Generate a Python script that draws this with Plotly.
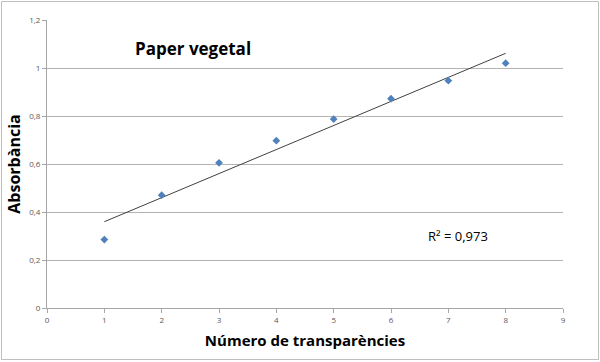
import numpy as np
import plotly.graph_objects as go

transparencies = [1, 2, 3, 4, 5, 6, 7, 8]
absorbance = [0.285, 0.47, 0.605, 0.697, 0.787, 0.872, 0.947, 1.02]
x_ticks = [0, 1, 2, 3, 4, 5, 6, 7, 8, 9]
y_ticks = [0, 0.2, 0.4, 0.6, 0.8, 1.0, 1.2]
y_tick_labels = ["0", "0,2", "0,4", "0,6", "0,8", "1", "1,2"]
title_text = "Paper vegetal"
x_title = "Número de transparències"
y_title = "Absorbància"
r2_text = "R² = 0,973"

slope, intercept = np.polyfit(transparencies, absorbance, 1)
trend_x = [transparencies[0], transparencies[-1]]
trend_y = [slope * v + intercept for v in trend_x]

W, H = 600, 362
ml, mr, mt, mb = 47, 37, 20, 54
pw, ph = W - ml - mr, H - mt - mb

fig = go.Figure()
fig.add_trace(go.Scatter(x=trend_x, y=trend_y, mode="lines",
                         line=dict(color="#404040", width=1), hoverinfo="skip"))
fig.add_trace(go.Scatter(x=transparencies, y=absorbance, mode="markers",
                         marker=dict(symbol="diamond", size=6, color="#4F81BD")))

font_fam = "Open Sans, Liberation Sans, sans-serif"
fig.update_layout(
    width=W, height=H, showlegend=False,
    margin=dict(l=ml, r=mr, t=mt, b=mb, pad=0),
    plot_bgcolor="white", paper_bgcolor="white",
    font=dict(family=font_fam, color="#404040"),
    xaxis=dict(range=[0, 9], tickvals=x_ticks, ticktext=[str(v) for v in x_ticks],
               automargin=False,
               showgrid=False, zeroline=False, showline=True, linecolor="#A6A6A6",
               linewidth=1, ticks="outside", ticklen=4, tickcolor="#A6A6A6",
               tickfont=dict(size=8, color="#595959"),
               title=dict(text=x_title, font=dict(size=15, family=font_fam, color="black", weight="bold"),
                          standoff=11)),
    yaxis=dict(range=[0, 1.2], tickvals=y_ticks, ticktext=y_tick_labels,
               automargin=False,
               showgrid=True, gridcolor="#B3B3B3", gridwidth=1, zeroline=False,
               showline=True, linecolor="#A6A6A6", linewidth=1, ticks="outside",
               ticklen=4, tickcolor="#A6A6A6",
               tickfont=dict(size=8, color="#595959"),
               title=dict(text=y_title, font=dict(size=16, family=font_fam, color="black", weight="bold"),
                          standoff=4)),
)

fig.add_annotation(text=title_text, xref="paper", yref="paper",
                   x=(133 - ml) / pw, y=(mt + ph - 48) / ph, xanchor="left", yanchor="middle",
                   showarrow=False, font=dict(size=17, family=font_fam, color="black", weight="bold"))
fig.add_annotation(text=r2_text, xref="paper", yref="paper",
                   x=(426 - ml) / pw, y=(mt + ph - 236) / ph, xanchor="left", yanchor="middle",
                   showarrow=False, font=dict(size=13, family=font_fam, color="black"))

# outer chart border
def px_x(p):
    return (p - ml) / pw
def px_y(p):
    return (mt + ph - p) / ph
fig.add_shape(type="rect", xref="paper", yref="paper",
              x0=px_x(1.5), x1=px_x(598.5), y0=px_y(359.5), y1=px_y(1.5),
              line=dict(color="#BFBFBF", width=1), layer="below")

fig.write_html("out.html", config={"displayModeBar": False},
               post_script="document.body.style.margin='0';document.body.style.overflow='hidden';")
